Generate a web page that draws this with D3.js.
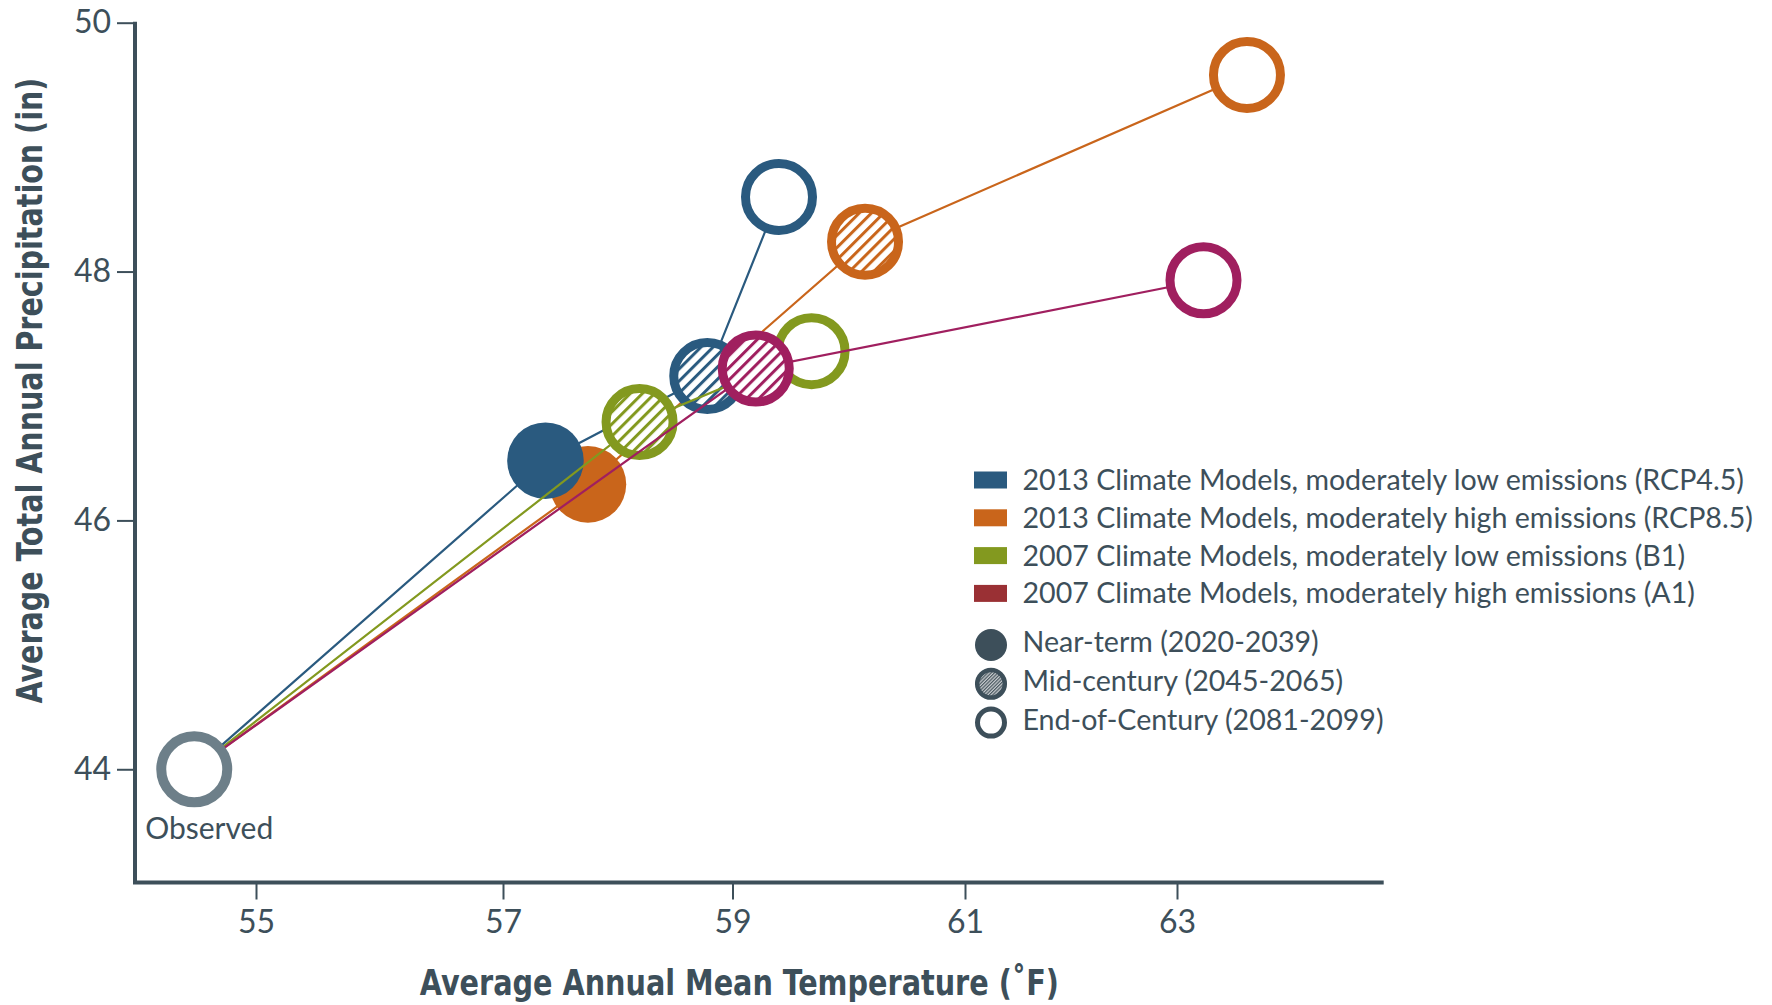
<!DOCTYPE html>
<html>
<head>
<meta charset="utf-8">
<script src="https://cdn.jsdelivr.net/npm/d3@7"></script>
<style>
  html, body { margin: 0; padding: 0; background: #ffffff; }
  svg { display: block; }
</style>
</head>
<body>
<svg id="chart" width="1772" height="1005"></svg>
<script>
// ---------------- DATA ----------------
const xTicks = [55, 57, 59, 61, 63];
const yTicks = [44, 46, 48, 50];

const scenarioKeys = ["RCP4.5", "RCP8.5", "B1", "A1"];
const scenarioLabels = [
  "2013 Climate Models, moderately low emissions (RCP4.5)",
  "2013 Climate Models, moderately high emissions (RCP8.5)",
  "2007 Climate Models, moderately low emissions (B1)",
  "2007 Climate Models, moderately high emissions (A1)"
];
const periodLabels = ["Near-term (2020-2039)", "Mid-century (2045-2065)", "End-of-Century (2081-2099)"];

const observedLabel = "Observed";
const observedTemp = 54.5;
const observedPrecip = 44.0;

// values per period: [near-term, mid-century, end-of-century]; null = not available
const rcp45Temp   = [57.37, 58.78, 59.40];
const rcp45Precip = [46.48, 47.16, 48.60];
const rcp85Temp   = [57.74, 60.14, 63.66];
const rcp85Precip = [46.29, 48.24, 49.58];
const b1Temp      = [null, 58.19, 59.68];
const b1Precip    = [null, 46.79, 47.36];
const a1Temp      = [null, 59.20, 63.25];
const a1Precip    = [null, 47.22, 47.93];

const xTitle = "Average Annual Mean Temperature (˚F)";
const yTitle = "Average Total Annual Precipitation (in)";

// ---------------- STYLE ----------------
const lineColors   = {"RCP4.5": "#2a5a7f", "RCP8.5": "#c9651b", "B1": "#83991f", "A1": "#a01f5f"};
const legendColors = {"RCP4.5": "#2a5a7f", "RCP8.5": "#c9651b", "B1": "#83991f", "A1": "#9a3034"};
const inkColor = "#3d4f5a";
const observedColor = "#6d7f89";
const bodyFont = "Lato, 'Open Sans', sans-serif";
const titleFont = "'Liberation Sans Narrow', 'DejaVu Sans Condensed', sans-serif";

const series = [
  {key: "RCP4.5", temp: rcp45Temp, precip: rcp45Precip},
  {key: "RCP8.5", temp: rcp85Temp, precip: rcp85Precip},
  {key: "B1",     temp: b1Temp,    precip: b1Precip},
  {key: "A1",     temp: a1Temp,    precip: a1Precip}
];
const drawOrder = ["RCP8.5", "RCP4.5", "B1", "A1"];

// ---------------- SCALES ----------------
const svg = d3.select("#chart");
// the original figure's temperature ticks are unevenly spaced; a piecewise scale reproduces that
const x = d3.scaleLinear().domain(xTicks).range([256, 503, 732.5, 965, 1177]);
const y = d3.scaleLinear().domain([43.09, 50]).range([882.5, 22.7]);
const axisX0 = 135;               // y-axis position
const axisY0 = y(43.09);          // x-axis position
const xEnd = x(64.95);

// ---------------- PATTERNS ----------------
const defs = svg.append("defs");
const hp = 8.6, hw = 3.0;
scenarioKeys.forEach(k => {
  const p = defs.append("pattern")
    .attr("id", "hatch-" + k.replace(".", ""))
    .attr("patternUnits", "userSpaceOnUse")
    .attr("width", hp).attr("height", hp)
    .attr("patternTransform", "rotate(45)");
  p.append("rect").attr("width", hp).attr("height", hp).attr("fill", "#ffffff");
  p.append("rect").attr("x", 0).attr("y", 0).attr("width", hw).attr("height", hp).attr("fill", lineColors[k]);
});
const cross = defs.append("pattern")
  .attr("id", "crosshatch").attr("patternUnits", "userSpaceOnUse")
  .attr("width", 2.4).attr("height", 2.4).attr("patternTransform", "rotate(45)");
cross.append("rect").attr("width", 2.4).attr("height", 2.4).attr("fill", "#c9cdd0");
cross.append("rect").attr("width", 1.2).attr("height", 2.4).attr("fill", "#4a5860");

// ---------------- AXES ----------------
const gx = svg.append("g").attr("transform", `translate(0,${axisY0})`)
  .call(d3.axisBottom(x).tickValues(xTicks).tickSize(17).tickPadding(10.5).tickFormat(d3.format("d")));
gx.select(".domain").remove();
gx.selectAll(".tick line").attr("stroke", inkColor).attr("stroke-width", 2);
gx.selectAll(".tick text").attr("fill", inkColor).style("font-family", bodyFont).style("font-size", "32px");

const gy = svg.append("g").attr("transform", `translate(${axisX0},0)`)
  .call(d3.axisLeft(y).tickValues(yTicks).tickSize(18).tickPadding(6).tickFormat(d3.format("d")));
gy.select(".domain").remove();
gy.selectAll(".tick line").attr("stroke", inkColor).attr("stroke-width", 2);
gy.selectAll(".tick text").attr("fill", inkColor).style("font-family", bodyFont).style("font-size", "32px");

svg.append("path")
  .attr("d", `M${axisX0},${y(50) - 1}V${axisY0}H${xEnd}`)
  .attr("fill", "none").attr("stroke", inkColor).attr("stroke-width", 4);

// axis titles
svg.append("text")
  .attr("x", (x(54.02) + x(64.95)) / 2 - 20).attr("y", 995)
  .attr("text-anchor", "middle")
  .attr("textLength", 639).attr("lengthAdjust", "spacingAndGlyphs")
  .attr("fill", inkColor).style("font-family", titleFont).style("font-weight", "bold").style("font-size", "35px")
  .text(xTitle);
svg.append("text")
  .attr("transform", `translate(42,${(y(50) + axisY0) / 2 - 62}) rotate(-90)`)
  .attr("text-anchor", "middle")
  .attr("textLength", 626).attr("lengthAdjust", "spacingAndGlyphs")
  .attr("fill", inkColor).style("font-family", titleFont).style("font-weight", "bold").style("font-size", "35px")
  .text(yTitle);

// ---------------- MARKS ----------------
const rOpen = 33.5, swOpen = 9, rFilled = 38.3;
const plot = svg.append("g");

drawOrder.forEach(k => {
  const s = series.find(d => d.key === k);
  const pts = [{t: observedTemp, p: observedPrecip, i: -1}];
  s.temp.forEach((t, i) => { if (t !== null) pts.push({t: t, p: s.precip[i], i: i}); });
  const g = plot.append("g");
  g.append("path")
    .datum(pts)
    .attr("d", d3.line().x(d => x(d.t)).y(d => y(d.p)))
    .attr("fill", "none").attr("stroke", lineColors[k]).attr("stroke-width", 2.2);
  pts.filter(d => d.i >= 0).forEach(d => {
    const c = g.append("circle").attr("cx", x(d.t)).attr("cy", y(d.p));
    if (d.i === 0) {
      c.attr("r", rFilled).attr("fill", lineColors[k]);
    } else if (d.i === 1) {
      c.attr("r", rOpen).attr("fill", `url(#hatch-${k.replace(".", "")})`)
       .attr("stroke", lineColors[k]).attr("stroke-width", swOpen);
    } else {
      c.attr("r", rOpen).attr("fill", "#ffffff")
       .attr("stroke", lineColors[k]).attr("stroke-width", swOpen);
    }
  });
});

// observed
plot.append("circle")
  .attr("cx", x(observedTemp)).attr("cy", y(observedPrecip))
  .attr("r", 33).attr("fill", "#ffffff").attr("stroke", observedColor).attr("stroke-width", 10);
plot.append("text")
  .attr("x", x(observedTemp) - 49).attr("y", y(observedPrecip) + 70)
  .attr("fill", inkColor).style("font-family", bodyFont).style("font-size", "30px")
  .text(observedLabel);

// ---------------- LEGEND ----------------
const legend = svg.append("g");
const lgX = 974, lgTextX = 1022.5, lgY0 = 480, lgStep = 37.8;
scenarioKeys.forEach((k, i) => {
  const yy = lgY0 + i * lgStep;
  legend.append("rect").attr("x", lgX).attr("y", yy - 8.5).attr("width", 33).attr("height", 17)
    .attr("fill", legendColors[k]);
  legend.append("text").attr("x", lgTextX).attr("y", yy).attr("dy", "0.35em")
    .attr("fill", inkColor).style("font-family", bodyFont).style("font-size", "28.6px")
    .text(scenarioLabels[i]);
});
const pY0 = 642, pStep = 38.8;
periodLabels.forEach((lab, i) => {
  const yy = pY0 + i * pStep;
  const c = legend.append("circle").attr("cx", 991).attr("cy", yy + 3);
  if (i === 0) c.attr("r", 16).attr("fill", inkColor);
  else if (i === 1) c.attr("r", 13.8).attr("fill", "url(#crosshatch)").attr("stroke", inkColor).attr("stroke-width", 4.5);
  else c.attr("r", 13.5).attr("fill", "#ffffff").attr("stroke", inkColor).attr("stroke-width", 5);
  legend.append("text").attr("x", lgTextX).attr("y", yy).attr("dy", "0.35em")
    .attr("fill", inkColor).style("font-family", bodyFont).style("font-size", "28.6px")
    .text(lab);
});
</script>
</body>
</html>
